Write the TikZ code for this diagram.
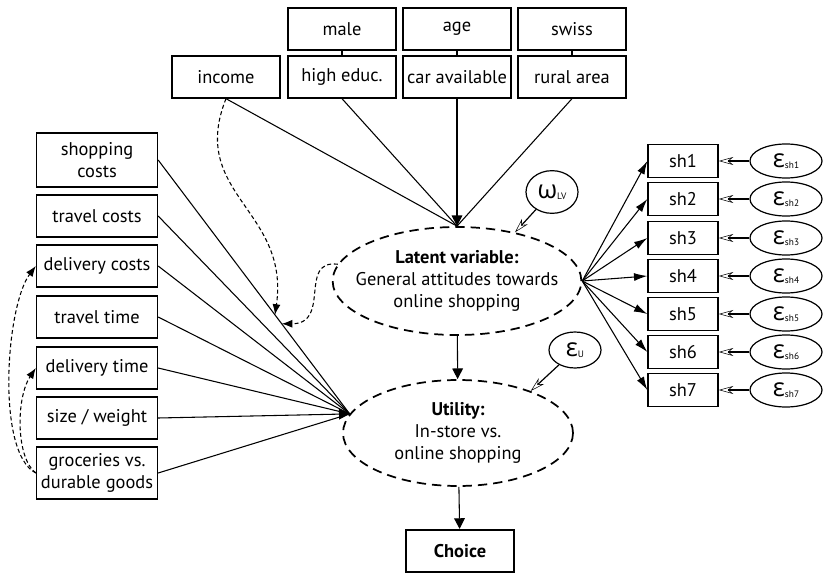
\documentclass[tikz,border=0pt]{standalone}
\usepackage{fontspec}
\setmainfont{PT Sans}
\newfontfamily\greekfont{Open Sans}
\usetikzlibrary{arrows.meta,shapes.geometric}
\newcommand{\errsym}[2]{{\greekfont\fontsize{19}{19}\selectfont #1}\raisebox{-0.1ex}{\fontsize{7}{7}\selectfont #2}}

\begin{document}
\begin{tikzpicture}
  [x=0.75pt, y=-0.75pt,
   every node/.style={font=\fontsize{13.8}{16.5}\selectfont},
   var/.style={draw, line width=1pt, minimum width=81pt, minimum height=31.5pt, inner sep=1pt, align=center},
   attr/.style={var, minimum width=90.75pt},
   ind/.style={draw, line width=1pt, minimum width=52.5pt, minimum height=24.75pt, inner sep=1pt},
   latent/.style={ellipse, draw, line width=1.3pt, dash pattern=on 7pt off 4.5pt, inner xsep=-10pt, inner ysep=0pt, align=center},
   errvar/.style={ellipse, draw, line width=0.9pt, minimum width=54pt, minimum height=25.5pt, inner sep=0pt},
   path/.style={line width=0.8pt},
   effect/.style={line width=0.8pt, -{Triangle[length=8pt, width=8pt]}},
   load/.style={line width=0.8pt, -{Latex[length=10pt, width=6pt]}},
   errarrow/.style={line width=0.9pt, -{Stealth[open, length=11pt, width=6pt, line width=0.4pt]}},
   inter/.style={line width=0.8pt, dash pattern=on 3pt off 2pt, -{Latex[length=8pt, width=6pt]}}]
\useasboundingbox (0,0) rectangle (824,574);

% socio-demographics
\node[var] (male) at (342,29) {male};
\node[var] (age) at (457,29) {age};
\node[var] (swiss) at (572,29) {swiss};
\node[var] (inc) at (226,77) {income};
\node[var] (hedu) at (342,77) {high educ.};
\node[var] (car) at (457,77) {car available};
\node[var] (rural) at (572,77) {rural area};

% attributes
\node[attr, minimum height=40.5pt] (shop) at (97,160) {shopping\\costs};
\node[attr] (trc) at (97,216) {travel costs};
\node[attr] (delc) at (97,266) {delivery costs};
\node[attr] (trt) at (97,317) {travel time};
\node[attr] (delt) at (97,368) {delivery time};
\node[attr] (size) at (97,418) {size / weight};
\node[attr, minimum height=39pt] (groc) at (97,473) {groceries vs.\\durable goods};

% latent variable, utility, choice
\node[latent, minimum width=180pt, minimum height=81pt] (lv) at (457,281)
  {\textbf{Latent variable:}\\General attitudes towards\\online shopping};
\node[latent, minimum width=172.5pt, minimum height=79.5pt] (ut) at (458,433)
  {\textbf{Utility:}\\In-store vs.\\online shopping};
\node[var, line width=1.6pt] (choice) at (460,551) {\textbf{Choice}};
\node[errvar, minimum width=39pt, minimum height=32pt] (omega) at (552,192) {\errsym{ω}{LV}};
\node[errvar, minimum width=39pt, minimum height=27pt] (epsu) at (575,350) {\errsym{ε}{U}};

% indicators
\node[ind] (sh1) at (683,161) {sh1};
\node[ind] (sh2) at (683,199) {sh2};
\node[ind] (sh3) at (683,238) {sh3};
\node[ind] (sh4) at (683,276) {sh4};
\node[ind] (sh5) at (683,314) {sh5};
\node[ind] (sh6) at (683,352) {sh6};
\node[ind] (sh7) at (683,390) {sh7};
\node[errvar] (e1) at (786,161) {\errsym{ε}{sh1}};
\node[errvar] (e2) at (786,199) {\errsym{ε}{sh2}};
\node[errvar] (e3) at (786,238) {\errsym{ε}{sh3}};
\node[errvar] (e4) at (786,276) {\errsym{ε}{sh4}};
\node[errvar] (e5) at (786,314) {\errsym{ε}{sh5}};
\node[errvar] (e6) at (786,352) {\errsym{ε}{sh6}};
\node[errvar] (e7) at (786,390) {\errsym{ε}{sh7}};

% structural part
\draw[path] (male) -- (hedu);
\draw[path] (age) -- (car);
\draw[path] (swiss) -- (rural);
\draw[path] (inc.south) -- (lv.north);
\draw[path] (hedu.south) -- (lv.north);
\draw[path] (rural.south) -- (lv.north);
\draw[effect] (car.south) -- (lv.north);

\draw[path] (shop.east) -- coordinate[pos=0.61] (m1) coordinate[pos=0.645] (m2) (ut.170);
\draw[path] (trc.east) -- (ut.170);
\draw[path] (delc.east) -- (ut.170);
\draw[path] (trt.east) -- (ut.170);
\draw[path] (delt.east) -- (ut.170);
\draw[path] (groc.east) -- (ut.170);
\draw[effect] (size.east) -- (ut.170);

\draw[effect] (lv) -- (ut);
\draw[effect] (ut) -- (choice);

% measurement part
\draw[load] (lv.east) -- (sh1.west);
\draw[load] (lv.east) -- (sh2.west);
\draw[load] (lv.east) -- (sh3.west);
\draw[load] (lv.east) -- (sh4.west);
\draw[load] (lv.east) -- (sh5.west);
\draw[load] (lv.east) -- (sh6.west);
\draw[load] (lv.east) -- (sh7.west);
\draw[errarrow] (e1) -- (sh1);
\draw[errarrow] (e2) -- (sh2);
\draw[errarrow] (e3) -- (sh3);
\draw[errarrow] (e4) -- (sh4);
\draw[errarrow] (e5) -- (sh5);
\draw[errarrow] (e6) -- (sh6);
\draw[errarrow] (e7) -- (sh7);
\draw[errarrow] (omega) -- (lv.40);
\draw[errarrow] (epsu) -- (ut.30);

% interactions
\draw[inter] (inc.south) .. controls +(-38,95) and +(15,-105) .. (m1);
\draw[inter] (lv.172) .. controls +(-40,-5) and +(50,0) .. (m2);
\draw[inter] (groc.west) .. controls +(-40,-20) and +(-30,40) .. (delc.west);
\draw[inter] (groc.west) .. controls +(-20,-15) and +(-20,30) .. (delt.west);
\end{tikzpicture}
\end{document}
